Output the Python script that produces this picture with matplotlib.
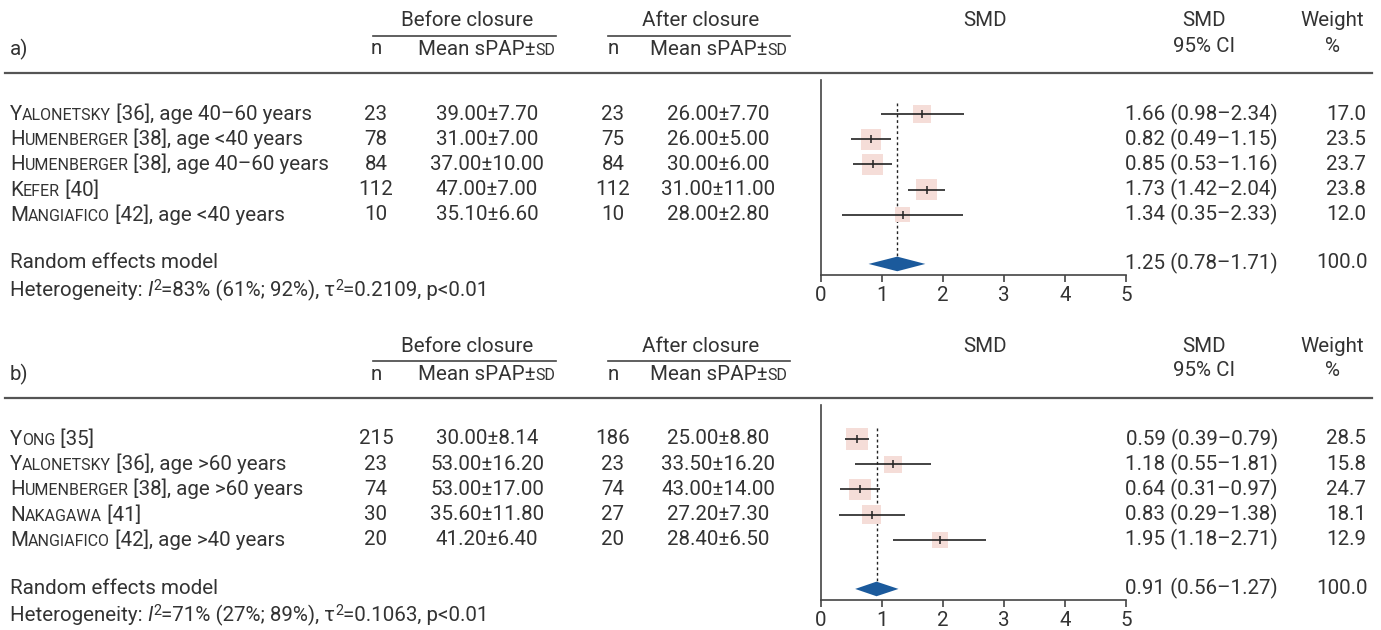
import matplotlib
matplotlib.use("Agg")
import numpy as np
import matplotlib.pyplot as plt
from matplotlib.patches import Polygon

plt.rcParams["font.family"] = ["Roboto", "DejaVu Sans"]
TXT = "#333333"
FS = 14.8

# ---- data: panel a ----
a_first = ["Y", "H", "H", "K", "M"]
a_caps = ["alonetsky", "umenberger", "umenberger", "efer", "angiafico"]
a_rest = [" [36], age 40–60 years", " [38], age <40 years", " [38], age 40–60 years",
          " [40]", " [42], age <40 years"]
a_n_before = [23, 78, 84, 112, 10]
a_mean_before = [39.00, 31.00, 37.00, 47.00, 35.10]
a_sd_before = [7.70, 7.00, 10.00, 7.00, 6.60]
a_n_after = [23, 75, 84, 112, 10]
a_mean_after = [26.00, 26.00, 30.00, 31.00, 28.00]
a_sd_after = [7.70, 5.00, 6.00, 11.00, 2.80]
a_smd = [1.66, 0.82, 0.85, 1.73, 1.34]
a_lo = [0.98, 0.49, 0.53, 1.42, 0.35]
a_hi = [2.34, 1.15, 1.16, 2.04, 2.33]
a_w = [17.0, 23.5, 23.7, 23.8, 12.0]
a_pool = (1.25, 0.78, 1.71)
a_het = (83, 61, 92, 0.2109)

# ---- data: panel b ----
b_first = ["Y", "Y", "H", "N", "M"]
b_caps = ["ong", "alonetsky", "umenberger", "akagawa", "angiafico"]
b_rest = [" [35]", " [36], age >60 years", " [38], age >60 years", " [41]",
          " [42], age >40 years"]
b_n_before = [215, 23, 74, 30, 20]
b_mean_before = [30.00, 53.00, 53.00, 35.60, 41.20]
b_sd_before = [8.14, 16.20, 17.00, 11.80, 6.40]
b_n_after = [186, 23, 74, 27, 20]
b_mean_after = [25.00, 33.50, 43.00, 27.20, 28.40]
b_sd_after = [8.80, 16.20, 14.00, 7.30, 6.50]
b_smd = [0.59, 1.18, 0.64, 0.83, 1.95]
b_lo = [0.39, 0.55, 0.31, 0.29, 1.18]
b_hi = [0.79, 1.81, 0.97, 1.38, 2.71]
b_w = [28.5, 15.8, 24.7, 18.1, 12.9]
b_pool = (0.91, 0.56, 1.27)
b_het = (71, 27, 89, 0.1063)

W, H = 1381, 630
fig = plt.figure(figsize=(W / 100, H / 100), dpi=100)
ov = fig.add_axes([0, 0, 1, 1])
ov.set_xlim(0, W)
ov.set_ylim(H, 0)
ov.axis("off")
renderer = fig.canvas.get_renderer()


def runs(x, y, parts, ha="left"):
    """Draw text pieces one after another on a common baseline."""
    objs = []
    cx = x
    for s, kw in parts:
        t = ov.text(cx, y, s, va="baseline", ha="left", color=TXT, **kw)
        bb = t.get_window_extent(renderer).transformed(ov.transData.inverted())
        cx += bb.width
        objs.append(t)
    if ha == "center":
        shift = (cx - x) / 2
        for t in objs:
            t.set_x(t.get_position()[0] - shift)
    return cx


def smallcaps_name(x, y, first, caps, rest):
    runs(x, y, [(first, dict(fontsize=FS)), (caps.upper(), dict(fontsize=FS * 0.78)),
                (rest, dict(fontsize=FS))])


def panel(off, label, first, caps, rest, nb, mb, sb, na, ma, sa, smd, lo, hi, w, pool, het):
    # headers
    ov.text(467, off + 21, "Before closure", ha="center", va="center", fontsize=FS, color=TXT)
    ov.text(701, off + 21, "After closure", ha="center", va="center", fontsize=FS, color=TXT)
    ov.plot([373, 556], [off + 36, off + 36], color="#444444", lw=1.2)
    ov.plot([608, 790], [off + 36, off + 36], color="#444444", lw=1.2)
    ov.text(10, off + 49, label, ha="left", va="center", fontsize=FS, color=TXT)
    for xn, xm in [(376, 487), (613, 719)]:
        ov.text(xn, off + 49, "n", ha="center", va="center", fontsize=FS, color=TXT)
        runs(xm, off + 55, [("Mean sPAP±", dict(fontsize=FS)), ("SD", dict(fontsize=FS * 0.78))],
             ha="center")
    ov.text(985, off + 21, "SMD", ha="center", va="center", fontsize=FS, color=TXT)
    ov.text(1204, off + 21, "SMD", ha="center", va="center", fontsize=FS, color=TXT)
    ov.text(1204, off + 46, "95% CI", ha="center", va="center", fontsize=FS, color=TXT)
    ov.text(1332, off + 21, "Weight", ha="center", va="center", fontsize=FS, color=TXT)
    ov.text(1333, off + 46, "%", ha="center", va="center", fontsize=FS, color=TXT)
    ov.plot([5, 1372], [off + 73, off + 73], color="#555555", lw=1.6)

    rows_y = [off + 114 + 25.2 * i for i in range(len(smd))]
    for i, y in enumerate(rows_y):
        smallcaps_name(10, y + 6, first[i], caps[i], rest[i])
        ov.text(376, y, str(nb[i]), ha="center", va="center", fontsize=FS, color=TXT)
        ov.text(487, y, f"{mb[i]:.2f}±{sb[i]:.2f}", ha="center", va="center", fontsize=FS, color=TXT)
        ov.text(613, y, str(na[i]), ha="center", va="center", fontsize=FS, color=TXT)
        ov.text(718, y, f"{ma[i]:.2f}±{sa[i]:.2f}", ha="center", va="center", fontsize=FS, color=TXT)
        ov.text(1278, y, f"{smd[i]:.2f} ({lo[i]:.2f}–{hi[i]:.2f})", ha="right", va="center",
                fontsize=FS, color=TXT)
        ov.text(1366, y, f"{w[i]:.1f}", ha="right", va="center", fontsize=FS, color=TXT)
    py = off + 263
    ov.text(10, py, "Random effects model", ha="left", va="center", fontsize=FS, color=TXT)
    ov.text(1278, py, f"{pool[0]:.2f} ({pool[1]:.2f}–{pool[2]:.2f})", ha="right", va="center",
            fontsize=FS, color=TXT)
    ov.text(1368, py, f"{sum(w):.1f}", ha="right", va="center", fontsize=FS, color=TXT)
    i2, i2lo, i2hi, tau2 = het
    sup = dict(fontsize=FS * 0.7)
    base = dict(fontsize=FS)
    hy = off + 296
    x = runs(10, hy, [("Heterogeneity: ", base), ("I", dict(fontsize=FS, style="italic"))])
    t = ov.text(x, hy - 6, "2", va="baseline", ha="left", color=TXT, **sup)
    x += t.get_window_extent(renderer).transformed(ov.transData.inverted()).width
    x = runs(x, hy, [(f"={i2}% ({i2lo}%; {i2hi}%), τ", base)])
    t = ov.text(x, hy - 6, "2", va="baseline", ha="left", color=TXT, **sup)
    x += t.get_window_extent(renderer).transformed(ov.transData.inverted()).width
    runs(x, hy, [(f"={tau2:.4f}, p<0.01", base)])

    # forest axes
    top, bot = off + 80, off + 275
    ax = fig.add_axes([821 / W, 1 - bot / H, 305 / W, (bot - top) / H])
    ax.patch.set_alpha(0)
    r = np.arange(len(smd))
    prow = 5.95
    ax.set_xlim(0, 5)
    ax.set_ylim((bot - off - 114) / 25.2, (top - off - 114) / 25.2)
    side_px = 4.3 * np.sqrt(np.array(w))
    ax.scatter(smd, r, marker="s", s=(side_px * 0.72) ** 2, color="#f5ddd8", lw=0, zorder=2)
    ax.hlines(r, lo, hi, color="#222222", lw=1.2, zorder=3)
    ax.scatter(smd, r, marker="|", s=40, color="#222222", lw=1.1, zorder=4)
    ax.plot([pool[0], pool[0]], [-0.45, prow - 0.3], color="#222222", lw=1, ls=(0, (2, 2)), zorder=1)
    ax.add_patch(Polygon([(pool[1], prow), (pool[0], prow - 0.29), (pool[2], prow),
                          (pool[0], prow + 0.29)], closed=True, color="#1b5a9c", lw=0, zorder=5))
    for s in ["top", "right"]:
        ax.spines[s].set_visible(False)
    for s in ["left", "bottom"]:
        ax.spines[s].set_color("#444444")
        ax.spines[s].set_linewidth(1.2)
    ax.set_yticks([])
    ax.set_xticks(range(6))
    ax.tick_params(axis="x", length=5, width=1.2, color="#444444", labelsize=FS,
                   labelcolor=TXT, pad=3)


panel(0, "a)", a_first, a_caps, a_rest, a_n_before, a_mean_before, a_sd_before,
      a_n_after, a_mean_after, a_sd_after, a_smd, a_lo, a_hi, a_w, a_pool, a_het)
panel(325, "b)", b_first, b_caps, b_rest, b_n_before, b_mean_before, b_sd_before,
      b_n_after, b_mean_after, b_sd_after, b_smd, b_lo, b_hi, b_w, b_pool, b_het)

fig.savefig("out.png", dpi=100)
